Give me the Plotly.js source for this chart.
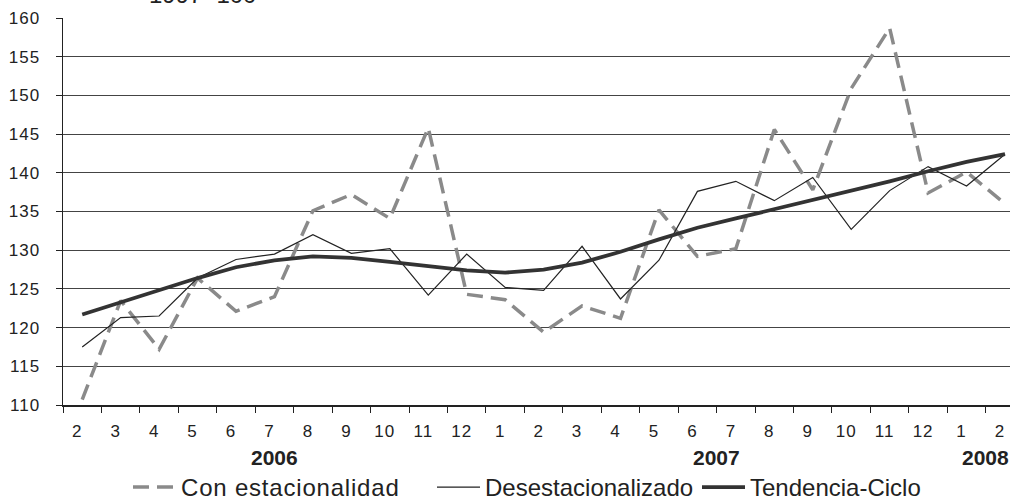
<!DOCTYPE html>
<html>
<head>
<meta charset="utf-8">
<script src="https://cdn.plot.ly/plotly-3.0.1.min.js"></script>
<style>
html,body{margin:0;padding:0;background:#fff;overflow:hidden;}
.xtick text,.ytick text{letter-spacing:1px;}
.legendtext{letter-spacing:0.8px;}
</style>
</head>
<body>
<div id="chart" style="width:1010px;height:500px;"></div>
<script>
const months = [2,3,4,5,6,7,8,9,10,11,12,1,2,3,4,5,6,7,8,9,10,11,12,1,2];
const years  = [2006,2006,2006,2006,2006,2006,2006,2006,2006,2006,2006,
                2007,2007,2007,2007,2007,2007,2007,2007,2007,2007,2007,2007,
                2008,2008];
const conEstacionalidad = [110.7,123.5,117.2,126.4,122.1,124.0,135.1,137.2,134.1,145.8,124.3,123.6,119.4,122.8,121.2,135.2,129.2,130.2,145.6,137.8,150.9,158.7,137.4,140.1,136.0];
const desestacionalizado = [117.5,121.3,121.5,126.4,128.8,129.5,132.0,129.6,130.2,124.2,129.5,125.2,124.8,130.5,123.7,128.7,137.6,138.9,136.4,139.4,132.7,137.7,140.8,138.3,142.4];
const tendenciaCiclo = [121.7,123.3,124.9,126.4,127.8,128.7,129.2,129.0,128.5,127.9,127.4,127.1,127.5,128.4,129.8,131.4,132.9,134.1,135.3,136.5,137.6,138.9,140.2,141.4,142.4];
const yTicks = [110,115,120,125,130,135,140,145,150,155,160];
const titleText = "1997=100";

const idx = months.map((m,i)=>i);
const L = 63, T = 18, B = 95, W = 1010, H = 500;
const plotH = H - T - B, plotW = W - L;

const traces = [
  {x: idx, y: conEstacionalidad, name: "Con estacionalidad", mode: "lines", legend: "legend",
   line: {color: "#8a8a8a", width: 3.5, dash: "16px,8px"}},
  {x: idx, y: desestacionalizado, name: "Desestacionalizado", mode: "lines", legend: "legend2",
   line: {color: "#222222", width: 1.2}},
  {x: idx, y: tendenciaCiclo, name: "Tendencia-Ciclo", mode: "lines", legend: "legend3",
   line: {color: "#333333", width: 3.8}}
];

const yearAnn = [];
[...new Set(years)].forEach(yr=>{
  const ii = idx.filter(i=>years[i]===yr);
  const c = (ii[0]+ii[ii.length-1])/2;
  yearAnn.push({x: c, xref: "x", y: -(457-405)/plotH, yref: "paper", yanchor: "middle",
    text: "<b>"+yr+"</b>", showarrow: false,
    font: {family: "Liberation Sans, Arial, sans-serif", size: 21, color: "#222"}});
});

function leg(px){
  return {orientation: "h", x: (px - L)/plotW, xanchor: "left", y: -(465-405)/plotH, yanchor: "top",
          font: {size: 24, color: "#222"}, itemwidth: 43, bgcolor: "rgba(0,0,0,0)"};
}

const layout = {
  width: W, height: H,
  margin: {l: L, r: 0, t: T, b: B, autoexpand: false},
  paper_bgcolor: "#fff", plot_bgcolor: "#fff",
  font: {family: "Liberation Sans, Arial, sans-serif", color: "#222"},
  showlegend: true,
  legend: leg(128), legend2: leg(432), legend3: leg(697),
  xaxis: {
    range: [-0.5, 24.13], tickmode: "array", tickvals: idx, ticktext: months.map(String),
    ticks: "", showgrid: false, zeroline: false,
    showline: true, linecolor: "#222", linewidth: 1.5,
    tickfont: {size: 17, color: "#222"}, ticklabelstandoff: 10, ticklabelshift: -5,
    minor: {tick0: -0.5, dtick: 1, ticks: "outside", ticklen: 6, tickcolor: "#222", tickwidth: 1, showgrid: false}
  },
  yaxis: {
    range: [110, 160], tickmode: "array", tickvals: yTicks, ticktext: yTicks.map(String),
    ticks: "outside", ticklen: 6, tickcolor: "#222", tickwidth: 1,
    showgrid: true, gridcolor: "#444", gridwidth: 1, zeroline: false,
    showline: true, linecolor: "#222", linewidth: 1.5,
    tickfont: {size: 17, color: "#222"}, ticklabelstandoff: 12
  },
  annotations: [
    {x: (202-82)/38.46, xref: "x", y: 1 + 8/plotH, yref: "paper", yanchor: "bottom",
     text: titleText, showarrow: false, font: {size: 24, color: "#222"}}
  ].concat(yearAnn)
};

Plotly.newPlot("chart", traces, layout, {displayModeBar: false, staticPlot: true});
</script>
</body>
</html>
